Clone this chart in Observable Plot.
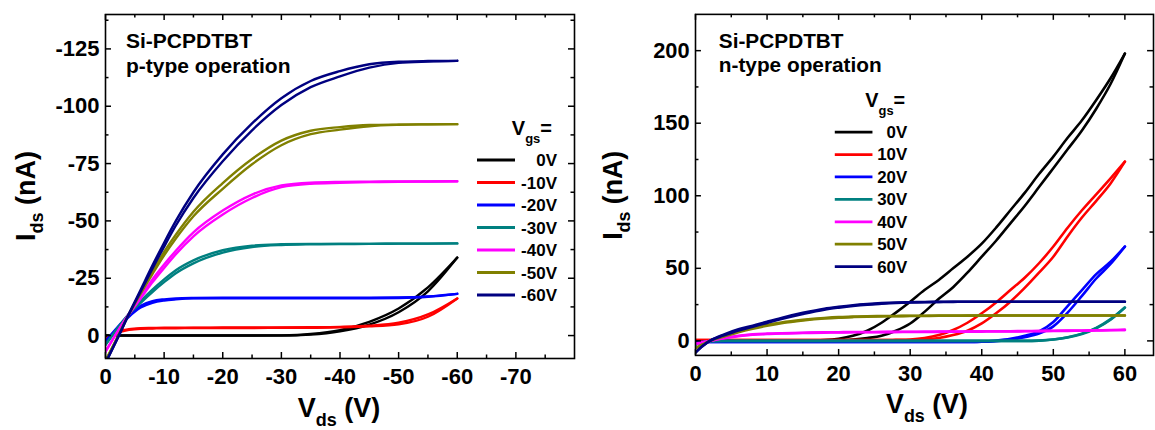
<!DOCTYPE html>
<html><head><meta charset="utf-8">
<script src="https://cdn.jsdelivr.net/npm/d3@7"></script>
<script src="https://cdn.jsdelivr.net/npm/@observablehq/plot@0.6"></script>
<style>
html,body{margin:0;padding:0;background:#fff;overflow:hidden;width:1155px;height:430px}
#wrap{position:relative;width:1155px;height:430px;overflow:hidden}
#wrap>div{position:absolute;top:0}
</style></head>
<body><div id="wrap"><div id="pPanel" style="left:0"></div><div id="nPanel" style="left:580px"></div></div>
<script>
const FONT = "'Liberation Sans', Arial, Helvetica, sans-serif";

// ---------- p-type panel (left) ----------
const pGates = ["0V","-10V","-20V","-30V","-40V","-50V","-60V"];
const pVds = [0,-2,-4,-6,-8,-10,-12,-15,-20,-25,-30,-35,-40,-45,-50,-55,-60];
const p0F  = [0,0,0,0,0,0,0,0,0,0,-0.1,-0.7,-2.4,-6,-11.8,-21,-34];
const p0R  = [0,0,0,0,0,0,0,0,0,0,0,-0.4,-1.8,-4.8,-10.2,-19.3,-34];
const p10F = [1.5,-1.5,-2.8,-3.2,-3.3,-3.4,-3.4,-3.4,-3.5,-3.5,-3.5,-3.6,-3.8,-4.3,-5.6,-9.2,-16.2];
const p10R = [1.5,-1.2,-2.5,-3.0,-3.1,-3.2,-3.2,-3.3,-3.3,-3.3,-3.4,-3.4,-3.6,-4.0,-4.9,-8.2,-16.2];
const p20F = [2.5,-3.5,-9,-13,-15,-15.8,-16.2,-16.4,-16.5,-16.5,-16.5,-16.5,-16.5,-16.5,-16.6,-17.1,-18.2];
const p20R = [2.5,-3,-8.2,-12.2,-14.3,-15.3,-15.8,-16.2,-16.3,-16.3,-16.3,-16.3,-16.3,-16.3,-16.4,-16.9,-18.2];
const p30F = [4,-3,-9.5,-15,-20,-24.5,-28.5,-32.8,-37.2,-39.2,-39.8,-40,-40,-40,-40.1,-40.1,-40.2];
const p30R = [4,-3,-9.3,-14.3,-19,-23.3,-27.2,-31.5,-36.2,-38.6,-39.5,-39.8,-39.9,-40,-40.1,-40.1,-40.2];
const p40F = [7,-1.5,-9.5,-17,-24.5,-31,-37,-45,-54.5,-61.5,-65.5,-66.7,-67,-67.1,-67.2,-67.2,-67.3];
const p40R = [7,-1.5,-9.3,-16.2,-23.2,-29.5,-35.5,-43.3,-52.8,-60,-64.7,-66.2,-66.6,-66.9,-67.1,-67.2,-67.3];
const p50F = [11,1,-9.5,-19,-28,-36.5,-44,-54,-66.5,-77,-85,-89.3,-90.9,-91.8,-92,-92.1,-92.2];
const p50R = [11,1,-9.3,-18.3,-26.8,-35,-42.3,-52,-64,-74.7,-83,-87.8,-89.8,-91.3,-91.9,-92.1,-92.2];
const p60F = [12,1.5,-9.5,-20,-30.5,-40.5,-50,-62.5,-79,-92.5,-103.5,-111,-115.3,-118.3,-119.4,-119.7,-119.8];
const p60R = [12,1.5,-9.3,-19.2,-29.2,-38.8,-48,-60,-76,-89.5,-100.5,-108.3,-113,-116.8,-118.9,-119.5,-119.8];
const pXTicks = [0,-10,-20,-30,-40,-50,-60,-70];
const pXMinor = [-5,-15,-25,-35,-45,-55,-65,-75];
const pYTicks = [0,-25,-50,-75,-100,-125];
const pYMinor = [-12.5,-37.5,-62.5,-87.5,-112.5,-137.5];

// ---------- n-type panel (right) ----------
const nGates = ["0V","10V","20V","30V","40V","50V","60V"];
const nVds = [0,1,2,4,6,8,10,12,15,18,20,22,24,26,28,30,32,34,36,38,40,42,44,46,48,50,52,54,56,58,60];
const n0F  = [0,0,0,0,0,0,0,0.1,0.2,0.6,1.5,3.5,7,12.5,19.5,27,35,42,50,58,67,78,90,102,115,127,140,152,166,181,198];
const n0R  = [0,0,0,0,0,0,0,0,0,0.1,0.4,1,2,3.5,7,12,20,29,37,47,58,69,81,93,106,119,132,145,160,177,198];
const n10F = [0.5,0.5,0.5,0.5,0.5,0.5,0.5,0.5,0.5,0.5,0.5,0.5,0.5,0.5,0.7,1,2,4,7.5,12.5,19,26.5,35,43.5,53.5,65,78,90,101,112,123.5];
const n10R = [0.5,0.5,0.5,0.5,0.5,0.5,0.5,0.5,0.5,0.5,0.5,0.5,0.5,0.5,0.5,0.6,1,2,4,7,12,19,27,36.5,47,58,72,85,96.5,108.5,123.5];
const n20F = [-0.8,-0.8,-0.8,-0.8,-0.8,-0.8,-0.8,-0.8,-0.8,-0.8,-0.8,-0.8,-0.8,-0.8,-0.8,-0.8,-0.8,-0.8,-0.8,-0.8,-0.5,0.3,1.5,3.5,6.5,13,24,35,46,54.5,65];
const n20R = [-0.8,-0.8,-0.8,-0.8,-0.8,-0.8,-0.8,-0.8,-0.8,-0.8,-0.8,-0.8,-0.8,-0.8,-0.8,-0.8,-0.8,-0.8,-0.8,-0.8,-0.6,-0.2,0.8,2.5,5,10,19.5,31,43,53,65];
const n30F = [-2.5,-1,-0.3,0,0,0,0,0,0,0,0,0,0,0,0,0,0,0,0,0,0,0,0,0,0.2,1,2.5,5,9,15,23];
const n30R = [-2.5,-1,-0.3,0,0,0,0,0,0,0,0,0,0,0,0,0,0,0,0,0,0,0,0,0,0.2,0.9,2.3,4.7,8.7,14.6,23];
const n40F = [-2,-1,0,2,3.5,4.5,5,5.3,5.6,5.9,6,6.1,6.1,6.2,6.2,6.3,6.3,6.4,6.4,6.5,6.6,6.6,6.7,6.8,6.9,7,7.1,7.2,7.3,7.45,7.6];
const n40R = [-2,-1,0,1.8,3.2,4.2,4.7,5.1,5.4,5.7,5.8,5.9,6,6,6.1,6.1,6.2,6.2,6.3,6.3,6.4,6.5,6.5,6.6,6.7,6.8,6.9,7,7.1,7.3,7.6];
const n50F = [-5,-2.5,0,3.5,6.5,9,11,12.7,14.5,15.8,16.4,16.7,17,17.1,17.2,17.3,17.3,17.4,17.4,17.4,17.5,17.5,17.5,17.5,17.5,17.5,17.5,17.5,17.5,17.5,17.5];
const n50R = [-5,-2.5,0,3,6,8.4,10.4,12.1,14,15.4,16,16.4,16.7,16.9,17,17.1,17.2,17.3,17.3,17.4,17.4,17.4,17.5,17.5,17.5,17.5,17.5,17.5,17.5,17.5,17.5];
const n60F = [-8,-3.5,0,4.5,8,10.5,13.2,15.8,19.3,22.2,23.5,24.6,25.4,26,26.4,26.6,26.8,26.9,27,27,27,27,27,27,27,27,27,27,27,27,27];
const n60R = [-8,-3.5,0,3.8,7.2,9.8,12.4,15,18.5,21.5,22.9,24.1,25,25.6,26.1,26.4,26.6,26.8,26.9,27,27,27,27,27,27,27,27,27,27,27,27];
const nXTicks = [0,10,20,30,40,50,60];
const nXMinor = [5,15,25,35,45,55];
const nYTicks = [0,50,100,150,200];
const nYMinor = [25,75,125,175];

const gateColors = ["#000000","#ff0000","#0000ff","#008080","#ff00ff","#808000","#000080"];

function buildRows(vds, gates, fwd, rev) {
  const out = [];
  gates.forEach((g, k) => {
    [["fwd", fwd[k]], ["rev", rev[k]]].forEach(([s, arr]) =>
      arr.forEach((i, j) => out.push({gate: g, sweep: s, v: vds[j], i})));
  });
  return out;
}

function panel(o) {
  const H = 430, mt = 14, mb = 72;
  const innerH = H - mt - mb, innerW = o.width - o.marginLeft - o.marginRight;
  const major = 6, minor = 3.5;
  const tk = {stroke: "#000", strokeWidth: 1.5};
  return Plot.plot({
    width: o.width, height: H, marginTop: mt, marginBottom: mb,
    marginLeft: o.marginLeft, marginRight: o.marginRight,
    style: {fontFamily: FONT, fontSize: "22px", fontWeight: "bold", color: "#000", background: "transparent"},
    x: {domain: o.xDomain},
    y: {domain: o.yDomain},
    color: {domain: o.gates, range: gateColors},
    marks: [
      Plot.line(o.rows, {x: "v", y: "i", z: d => d.gate + d.sweep, stroke: "gate", strokeWidth: o.lineWidth, curve: "monotone-x", clip: true}),
      Plot.tickX(o.xTicks, {x: d => d, insetTop: innerH - major, ...tk}),
      Plot.tickX(o.xTicks, {x: d => d, insetBottom: innerH - major, ...tk}),
      Plot.tickX(o.xMinor, {x: d => d, insetTop: innerH - minor, ...tk}),
      Plot.tickX(o.xMinor, {x: d => d, insetBottom: innerH - minor, ...tk}),
      Plot.tickY(o.yTicks, {y: d => d, insetRight: innerW - major, ...tk}),
      Plot.tickY(o.yTicks, {y: d => d, insetLeft: innerW - major, ...tk}),
      Plot.tickY(o.yMinor, {y: d => d, insetRight: innerW - minor, ...tk}),
      Plot.tickY(o.yMinor, {y: d => d, insetLeft: innerW - minor, ...tk}),
      Plot.frame({stroke: "#000", strokeWidth: 1.6}),
      Plot.axisX(o.xTicks, {tickSize: 0, tickPadding: 10, tickFormat: d => String(d), label: null, fontSize: 22}),
      Plot.axisY(o.yTicks, {tickSize: 0, tickPadding: 6, tickFormat: d => String(d), label: null, fontSize: 22})
    ]
  });
}

function subText(svg, x, y, rot, anchor, parts) {
  const t = d3.select(svg).append("text")
    .attr("transform", `translate(${x},${y})` + (rot ? ` rotate(${rot})` : ""))
    .attr("text-anchor", anchor).attr("font-family", FONT).attr("font-weight", "bold").attr("fill", "#000");
  parts.forEach(p => t.append("tspan").attr("font-size", p.s).attr("dy", p.dy || 0).text(p.t));
}

function legend(svg, gates, o) {
  const g = d3.select(svg).append("g");
  subText(svg, o.titleX, o.titleY, 0, "end", [{t: "V", s: 20}, {t: "gs", s: 13, dy: 8}, {t: "=", s: 20, dy: -8}]);
  gates.forEach((name, k) => {
    const y = o.y0 + k * o.step;
    g.append("line").attr("x1", o.x1).attr("x2", o.x2).attr("y1", y).attr("y2", y)
      .attr("stroke", gateColors[k]).attr("stroke-width", 2.8);
    g.append("text").attr("x", o.labelX).attr("y", y + 6).attr("text-anchor", "end")
      .attr("font-family", FONT).attr("font-weight", "bold").attr("font-size", 17).attr("fill", "#000").text(name);
  });
}

function annot(svg, x, lines) {
  lines.forEach((s, k) => d3.select(svg).append("text").attr("x", x).attr("y", 48 + k * 25)
    .attr("text-anchor", "start")
    .attr("font-family", FONT).attr("font-weight", "bold").attr("font-size", 21).attr("fill", "#000").text(s));
}

// Left panel
const pSvg = panel({
  width: 580, marginLeft: 105, marginRight: 6, lineWidth: 2.4,
  xDomain: [0, -80], yDomain: [10, -140],
  xTicks: pXTicks, xMinor: pXMinor, yTicks: pYTicks, yMinor: pYMinor,
  gates: pGates,
  rows: buildRows(pVds, pGates, [p0F,p10F,p20F,p30F,p40F,p50F,p60F], [p0R,p10R,p20R,p30R,p40R,p50R,p60R])
});
document.getElementById("pPanel").append(pSvg);
subText(pSvg, 35, 196, -90, "middle", [{t: "I", s: 27}, {t: "ds", s: 18, dy: 8}, {t: " (nA)", s: 27, dy: -8}]);
subText(pSvg, 339, 417, 0, "middle", [{t: "V", s: 27}, {t: "ds", s: 18, dy: 9}, {t: " (V)", s: 27, dy: -9}]);
annot(pSvg, 126, ["Si-PCPDTBT", "p-type operation"]);
legend(pSvg, pGates, {titleX: 552, titleY: 135, y0: 160, step: 22.5, x1: 477, x2: 515, labelX: 557});

// Right panel
const nSvg = panel({
  width: 580, marginLeft: 116, marginRight: 2, lineWidth: 2.6,
  xDomain: [0, 64], yDomain: [-10, 225],
  xTicks: nXTicks, xMinor: nXMinor, yTicks: nYTicks, yMinor: nYMinor,
  gates: nGates,
  rows: buildRows(nVds, nGates, [n0F,n10F,n20F,n30F,n40F,n50F,n60F], [n0R,n10R,n20R,n30R,n40R,n50R,n60R])
});
document.getElementById("nPanel").append(nSvg);
subText(nSvg, 42, 197, -90, "middle", [{t: "I", s: 27}, {t: "ds", s: 18, dy: 8}, {t: " (nA)", s: 27, dy: -8}]);
subText(nSvg, 350, 417, 0, "middle", [{t: "V", s: 27}, {t: "ds", s: 18, dy: 9}, {t: " (V)", s: 27, dy: -9}]);
annot(nSvg, 140, ["Si-PCPDTBT", "n-type operation"]);
legend(nSvg, nGates, {titleX: 328, titleY: 108, y0: 133.3, step: 22.6, x1: 257, x2: 295, labelX: 330});
</script>
</body></html>
